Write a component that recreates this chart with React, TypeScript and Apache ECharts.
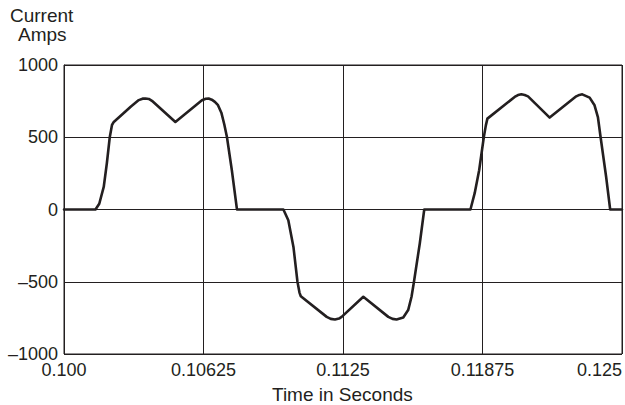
import React, { useEffect, useRef } from "react";
import * as echarts from "echarts";

const xTickValues = [0.1, 0.10625, 0.1125, 0.11875, 0.125];
const xTickLabels = ["0.100", "0.10625", "0.1125", "0.11875", "0.125"];
const yTickValues = [-1000, -500, 0, 500, 1000];
const yTickLabels = ["\u20131000", "\u2013500", "0", "500", "1000"];

const timeSeconds = [
  0.1, 0.10141, 0.10158, 0.10178, 0.10192, 0.10205, 0.10215, 0.10223, 0.103, 0.10335, 0.10352, 0.10365, 0.1038,
  0.10394, 0.10499, 0.10618, 0.10635, 0.10648, 0.10662, 0.10676, 0.1069, 0.10705, 0.10718, 0.1073, 0.10752, 0.10775,
  0.10983, 0.11005, 0.11028, 0.11046, 0.11055, 0.11061, 0.11177, 0.11195, 0.11214, 0.11232, 0.11244, 0.11341,
  0.11453, 0.11472, 0.1149, 0.1152, 0.11542, 0.11557, 0.11568, 0.11594, 0.11614,
  0.11821, 0.1184, 0.1186, 0.11881, 0.1189, 0.11897, 0.12019, 0.12034, 0.12049, 0.12064, 0.12079, 0.12176,
  0.12295, 0.12309, 0.12322, 0.12355, 0.12377, 0.12392, 0.12404, 0.12429, 0.12447, 0.125,
];
const currentAmps = [
  0, 0, 40, 156, 320, 500, 585, 606, 713, 757, 767, 768, 765, 752, 606, 756, 766, 768, 760, 745, 722, 670, 590,
  502, 272, 0,
  0, -74, -259, -500, -575, -600, -743, -757, -761, -755, -743, -604,
  -743, -757, -761, -747, -696, -604, -500, -235, 0,
  0, 113, 272, 502, 582, 629, 779, 792, 797, 792, 783, 636,
  783, 793, 797, 774, 721, 640, 502, 225, 0, 0,
];

const FONT = "'Liberation Sans', Arial, Helvetica, sans-serif";
const TEXT = "#231f20";

export default function App() {
  const ref = useRef<HTMLDivElement>(null);
  useEffect(() => {
    if (!ref.current) return;
    const chart = echarts.init(ref.current, undefined, { renderer: "svg" });
    const data = timeSeconds.map((t, i) => [t, currentAmps[i]]);
    const nearest = (v: number, vals: number[], labels: string[]) => {
      let bi = 0;
      for (let i = 1; i < vals.length; i++) if (Math.abs(vals[i] - v) < Math.abs(vals[bi] - v)) bi = i;
      return labels[bi];
    };
    chart.setOption({
      animation: false,
      backgroundColor: "#ffffff",
      grid: {
        left: 64,
        right: 3,
        top: 65,
        bottom: 51,
        show: true,
        borderColor: "#231f20",
        borderWidth: 1,
        backgroundColor: "transparent",
      },
      xAxis: {
        type: "value",
        min: 0.1,
        max: 0.125,
        interval: 0.00625,
        axisLine: { show: true, lineStyle: { color: "#231f20", width: 1 } },
        axisTick: { show: false },
        splitLine: { show: true, lineStyle: { color: "#231f20", width: 1 } },
        axisLabel: {
          color: TEXT,
          fontFamily: FONT,
          fontSize: 18,
          margin: 7,
          alignMaxLabel: "right",
          formatter: (v: number) => nearest(v, xTickValues, xTickLabels),
        },
      },
      yAxis: {
        type: "value",
        min: -1000,
        max: 1000,
        interval: 500,
        axisLine: { show: true, lineStyle: { color: "#231f20", width: 1 } },
        axisTick: { show: false },
        splitLine: { show: true, lineStyle: { color: "#231f20", width: 1 } },
        axisLabel: {
          color: TEXT,
          fontFamily: FONT,
          fontSize: 18,
          margin: 6,
          formatter: (v: number) => nearest(v, yTickValues, yTickLabels),
        },
      },
      graphic: [
        {
          type: "text",
          left: 10,
          top: 6,
          style: { text: "Current", fill: TEXT, font: `19px ${FONT}` },
        },
        {
          type: "text",
          left: 18,
          top: 25,
          style: { text: "Amps", fill: TEXT, font: `19px ${FONT}` },
        },
        {
          type: "text",
          left: 272,
          top: 385,
          style: { text: "Time in Seconds", fill: TEXT, font: `19px ${FONT}` },
        },
      ],
      series: [
        {
          type: "line",
          data,
          showSymbol: false,
          smooth: false,
          lineStyle: { color: "#231f20", width: 2.6, join: "round", cap: "round" },
          silent: true,
        },
      ],
    });
    return () => chart.dispose();
  }, []);
  return <div ref={ref} style={{ position: "fixed", left: 0, top: 0, width: 625, height: 405 }} />;
}
